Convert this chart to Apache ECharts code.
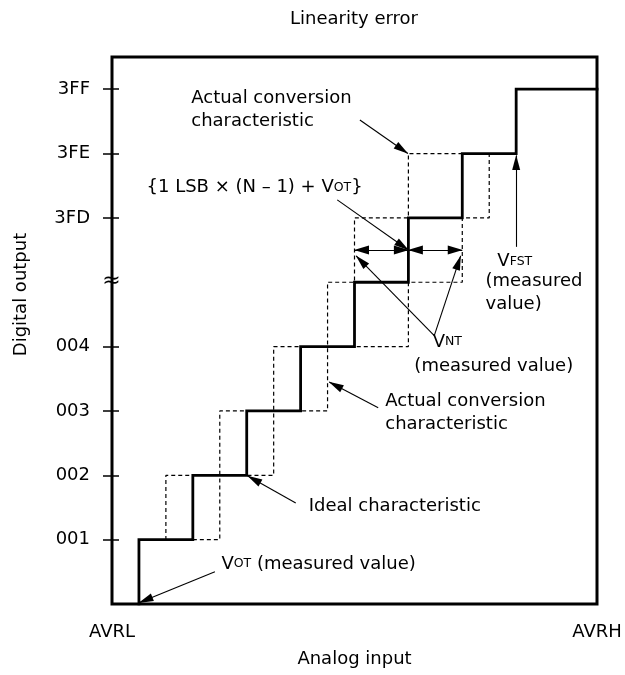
<!DOCTYPE html>
<html><head><meta charset="utf-8">
<script src="https://cdn.jsdelivr.net/npm/echarts@6/dist/echarts.min.js"></script>
<style>html,body{margin:0;padding:0;background:#fff}#c{width:625px;height:675px}</style>
</head><body><div id="c"></div>
<script>
const FONT = 'DejaVu Sans';
const FS = 18;

// ---- texts / ticks ----
const titleText = 'Linearity error';
const xAxisName = 'Analog input';
const yAxisName = 'Digital output';
const xLabelValues = [0, 9];
const xLabels = ['AVRL', 'AVRH'];
const yTickValues = [1, 2, 3, 4, 6, 7, 8];
const yTickLabels = ['001', '002', '003', '004', '3FD', '3FE', '3FF'];
const breakMark = ['≈'];
const breakLevel = [5];

// ---- characteristics (x in LSB from AVRL, y = output code level) ----
const idealLevels = [1, 2, 3, 4, 5, 6, 7, 8];
const idealStarts = [0.5, 1.5, 2.5, 3.5, 4.5, 5.5, 6.5, 7.5];
const idealEnd = [9];

const earlyLevels = [1, 2, 3, 4, 5, 6, 7];
const earlyStarts = [0.5, 1.0, 2.0, 3.0, 4.0, 4.5, 5.5];
const earlyEnd = [6.5];

const lateLevels = [1, 2, 3, 4, 5, 6, 7];
const lateStarts = [1.5, 2.0, 3.0, 4.0, 5.5, 6.5, 7.0];
const lateEnd = [7.5];

// ---- annotations (axis units) ----
const arrowFrom = [[4.60, 7.52], [4.18, 6.28], [5.98, 4.17], [5.98, 4.17], [7.5, 5.55], [4.94, 3.05], [3.41, 1.57], [1.91, 0.50]];
const arrowTo   = [[5.49, 7.0],  [5.5, 5.5],   [4.53, 5.41], [6.47, 5.41], [7.5, 6.97], [4.03, 3.45], [2.52, 1.99], [0.5, 0.02]];
const spanFrom = [[4.5, 5.5], [5.5, 5.5]];
const spanTo   = [[5.5, 5.5], [6.5, 5.5]];

const noteAt = [[1.48, 7.67], [0.65, 6.46], [5.96, 4.06], [5.62, 3.68], [7.16, 5.31], [6.94, 4.82], [5.08, 2.96], [3.66, 1.51], [2.04, 0.61]];
const noteText = [
  'Actual conversion\ncharacteristic',
  '{1 LSB × (N – 1) + V{s|OT}}',
  'V{s|NT}',
  '(measured value)',
  'V{s|FST}',
  '(measured\nvalue)',
  'Actual conversion\ncharacteristic',
  'Ideal characteristic',
  'V{s|OT} (measured value)'
];

function stairs(levels, starts, end, fromZero) {
  const pts = [];
  if (fromZero) pts.push([starts[0], 0]);
  for (let i = 0; i < levels.length; i++) {
    pts.push([starts[i], levels[i]]);
    pts.push([i + 1 < levels.length ? starts[i + 1] : end, levels[i]]);
  }
  return pts;
}

const txt = {fontFamily: FONT, fontSize: FS, color: '#000'};
const rich = {s: {fontFamily: FONT, fontSize: 12.5, color: '#000', lineHeight: 12, verticalAlign: 'bottom', padding: [0, 0, 5, 0]}};

const markLines = [];
arrowFrom.forEach((f, i) => markLines.push([
  {coord: f, symbol: 'none'},
  {coord: arrowTo[i], symbol: 'triangle', symbolSize: [8, 15], symbolOffset: [0, 7]}
]));
spanFrom.forEach((f, i) => markLines.push([
  {coord: f, symbol: 'triangle', symbolSize: [9, 15], symbolOffset: [0, 7]},
  {coord: spanTo[i], symbol: 'triangle', symbolSize: [9, 15], symbolOffset: [0, 7]}
]));

const chart = echarts.init(document.getElementById('c'));
chart.setOption({
  animation: false,
  backgroundColor: '#fff',
  title: {text: titleText, left: 354, top: 10, padding: 0, textAlign: 'center',
    textStyle: Object.assign({fontWeight: 'normal'}, txt)},
  grid: {left: 112, right: 28, top: 57, bottom: 71, show: true, borderColor: '#000', borderWidth: 3,
    backgroundColor: 'transparent', outerBoundsMode: 'none', containLabel: false},
  xAxis: {
    type: 'value', min: 0, max: 9, interval: 9,
    name: xAxisName, nameLocation: 'middle', nameGap: 46, nameTextStyle: txt,
    axisLine: {show: false}, axisTick: {show: false}, splitLine: {show: false},
    axisLabel: Object.assign({margin: 19, showMinLabel: true, showMaxLabel: true,
      formatter: v => { const k = xLabelValues.indexOf(v); return k >= 0 ? xLabels[k] : ''; }}, txt)
  },
  yAxis: [{
    type: 'value', min: 0, max: 8.5, interval: 1, position: 'left',
    name: yAxisName, nameLocation: 'middle', nameGap: 82, nameRotate: 90,
    nameTextStyle: Object.assign({padding: [0, 0, 0, 72]}, txt),
    axisLine: {show: false}, splitLine: {show: false},
    axisTick: {show: true, inside: false, length: 9, lineStyle: {color: '#000', width: 1.5}, customValues: yTickValues},
    axisLabel: Object.assign({margin: 22, customValues: yTickValues,
      formatter: v => { const k = yTickValues.indexOf(v); return k >= 0 ? yTickLabels[k] : ''; }}, txt)
  }, {
    type: 'value', min: 0, max: 8.5, interval: 1, position: 'left', offset: 0,
    axisLine: {show: false}, splitLine: {show: false}, axisLabel: {show: false},
    axisTick: {show: true, inside: true, length: 7, lineStyle: {color: '#000', width: 1.5}, customValues: yTickValues}
  }],
  series: [
    {type: 'line', name: 'actual-early', data: stairs(earlyLevels, earlyStarts, earlyEnd[0], true),
      showSymbol: false, silent: true, z: 2,
      lineStyle: {color: '#000', width: 1.2, type: [4, 3]}},
    {type: 'line', name: 'actual-late', data: stairs(lateLevels, lateStarts, lateEnd[0], false),
      showSymbol: false, silent: true, z: 2,
      lineStyle: {color: '#000', width: 1.2, type: [4, 3]}},
    {type: 'line', name: 'ideal', data: stairs(idealLevels, idealStarts, idealEnd[0], true),
      showSymbol: false, silent: true, z: 3,
      lineStyle: {color: '#000', width: 2.8, join: 'miter', cap: 'square'},
      markLine: {silent: true, animation: false, label: {show: false}, emphasis: {disabled: true},
        lineStyle: {color: '#000', width: 1.1, type: 'solid'}, data: markLines}},
    {type: 'scatter', name: 'notes', symbolSize: 1, silent: true, z: 5,
      itemStyle: {color: 'transparent', opacity: 1},
      data: noteAt.map((p, i) => ({value: p, label: Object.assign({show: true, position: [0, 0], opacity: 1,
        align: 'left', verticalAlign: 'middle', lineHeight: 23, formatter: noteText[i], rich: rich}, txt)}))
        .concat(breakLevel.map((b, i) => ({value: [0, b], label: {show: true, position: [0, 0], opacity: 1,
          align: 'center', verticalAlign: 'middle', formatter: breakMark[i], fontFamily: FONT, fontSize: 22, color: '#000'}})))
    }
  ]
});
</script></body></html>
